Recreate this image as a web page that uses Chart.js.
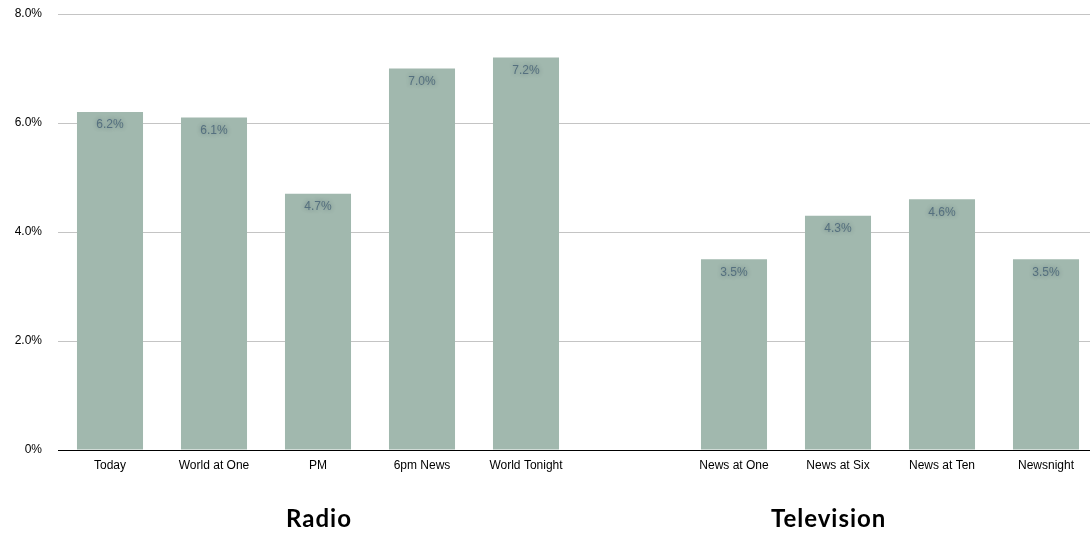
<!DOCTYPE html>
<html>
<head>
<meta charset="utf-8">
<script src="https://cdn.jsdelivr.net/npm/chart.js@4/dist/chart.umd.min.js"></script>
<style>
html,body{margin:0;padding:0;background:#fff;overflow:hidden;width:1090px;height:533px;}
#wrap{position:relative;width:1098px;height:533px;}
canvas{display:block;}
</style>
</head>
<body>
<div id="wrap"><canvas id="c" width="1098" height="533"></canvas></div>
<script>
const categories = ['Today','World at One','PM','6pm News','World Tonight','','News at One','News at Six','News at Ten','Newsnight'];
const shareValues = [6.2, 6.1, 4.7, 7.0, 7.2, null, 3.5, 4.3, 4.6, 3.5];
const yTickValues = [0, 2, 4, 6, 8];
const yTickLabels = ['0%', '2.0%', '4.0%', '6.0%', '8.0%'];
const groupNames = ['Radio', 'Television'];
const groupAnchors = [2.01, 6.91];

const barColor = '#a1b8ae';

const valueLabels = {
  id: 'valueLabels',
  afterDatasetsDraw(chart) {
    const ctx = chart.ctx;
    const meta = chart.getDatasetMeta(0);
    ctx.save();
    ctx.font = '12px "Liberation Sans", Arial, sans-serif';
    ctx.textAlign = 'center';
    ctx.textBaseline = 'middle';
    ctx.fillStyle = '#55707f';
    ctx.shadowColor = 'rgba(40,60,70,0.45)';
    ctx.shadowBlur = 4;
    meta.data.forEach((bar, i) => {
      const v = shareValues[i];
      if (v === null) return;
      ctx.fillText(v.toFixed(1) + '%', bar.x, bar.y + 13);
    });
    ctx.restore();
  }
};

const groupLabels = {
  id: 'groupLabels',
  afterDraw(chart) {
    const ctx = chart.ctx;
    const xs = chart.scales.x;
    ctx.save();
    ctx.font = 'bold 24px Lato, "Open Sans", sans-serif';
    try { ctx.letterSpacing = '1px'; } catch (e) {}
    ctx.textAlign = 'center';
    ctx.textBaseline = 'middle';
    ctx.fillStyle = '#000';
    groupNames.forEach((name, i) => {
      ctx.fillText(name, xs.getPixelForValue(groupAnchors[i]), 519);
    });
    ctx.restore();
  }
};

new Chart(document.getElementById('c'), {
  type: 'bar',
  data: {
    labels: categories,
    datasets: [{
      data: shareValues,
      backgroundColor: barColor,
      borderWidth: 0,
      barPercentage: 0.635,
      categoryPercentage: 1.0
    }]
  },
  options: {
    responsive: false,
    animation: false,
    devicePixelRatio: 1,
    layout: { padding: { top: 14, right: 0, bottom: 0, left: 0 } },
    plugins: { legend: { display: false }, tooltip: { enabled: false } },
    scales: {
      x: {
        grid: { display: false, drawTicks: false },
        border: { display: false },
        ticks: {
          color: '#000',
          font: { family: '"Liberation Sans", Arial, sans-serif', size: 12 },
          padding: 8,
          maxRotation: 0,
          autoSkip: false
        },
        afterFit(scale) { scale.height = 83; scale.paddingLeft = 0; scale.paddingRight = 0; }
      },
      y: {
        min: 0,
        max: 8,
        afterBuildTicks(scale) { scale.ticks = yTickValues.map(v => ({ value: v })); },
        grid: {
          drawTicks: false,
          color: (c) => (c.tick && c.tick.value === 0) ? '#000000' : '#c4c4c4',
          lineWidth: 1
        },
        border: { display: false },
        ticks: {
          color: '#000',
          font: { family: '"Liberation Sans", Arial, sans-serif', size: 12 },
          padding: 16,
          callback: (v, i) => yTickLabels[i]
        },
        afterFit(scale) { scale.width = 58; scale.paddingTop = 0; scale.paddingBottom = 0; }
      }
    }
  },
  plugins: [valueLabels, groupLabels]
});
</script>
</body>
</html>
